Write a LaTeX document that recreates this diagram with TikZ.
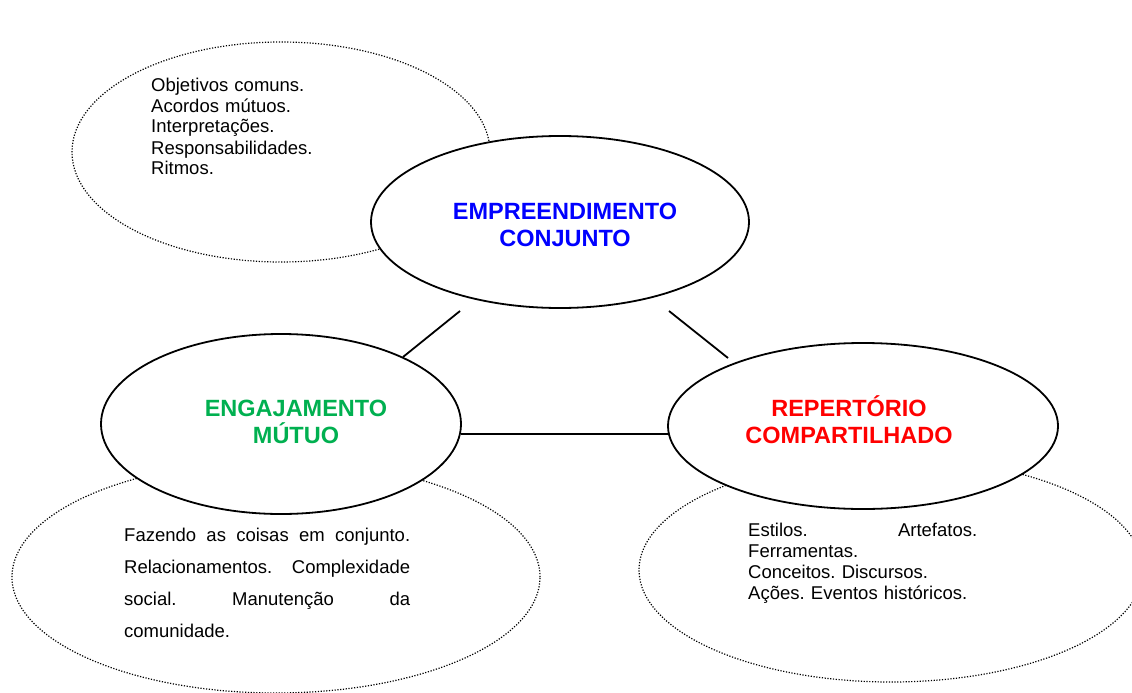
\documentclass[tikz,border=0pt]{standalone}
\usepackage{fontspec}
\setmainfont{Liberation Sans}
\usetikzlibrary{shapes.geometric}
\definecolor{empblue}{RGB}{0,0,255}
\definecolor{enggreen}{RGB}{0,176,80}
\definecolor{repred}{RGB}{255,0,0}
\frenchspacing
\begin{document}
\begin{tikzpicture}[x=1pt,y=-1pt,
  mainell/.style={ellipse, draw, line width=1.8pt, fill=white, inner sep=0pt, outer sep=0pt},
  cloud/.style={ellipse, draw, line width=1.2pt, dash pattern=on 1.2pt off 1.6pt, inner sep=0pt, outer sep=0pt},
  title/.style={font=\fontsize{23.5}{27}\selectfont\bfseries, text width=320pt, align=center, anchor=base, inner sep=0pt},
  body/.style={font=\fontsize{18.5}{21}\selectfont, text width=300pt, align=left, anchor=base west, inner sep=0pt},
  link/.style={line width=1.8pt}]
\useasboundingbox (0,0) rectangle (1132,693);
% dotted clouds
\node[cloud, minimum width=418pt, minimum height=220pt] (c1) at (281,152) {};
\node[cloud, minimum width=528pt, minimum height=232pt] (c2) at (276,577) {};
\node[cloud, minimum width=504pt, minimum height=224pt] (c3) at (891,570) {};
% body texts
\node[body] (t1) at (151,91) {Objetivos comuns.\\Acordos mútuos.\\Interpretações.\\Responsabilidades.\\Ritmos.};
\node[body, font=\fontsize{18.5}{32}\selectfont] (t2) at (124,541) {%
\makebox[286pt]{Fazendo\hfill as\hfill coisas\hfill em\hfill conjunto.}\\
\makebox[286pt]{Relacionamentos.\hfill Complexidade}\\
\makebox[286pt]{social.\hfill Manutenção\hfill da}\\
comunidade.};
\node[body, font=\fontsize{18.5}{21.3}\selectfont] (t3) at (748,536) {%
\makebox[229pt]{Estilos.\hfill Artefatos.}\\
Ferramentas.\\Conceitos. Discursos.\\Ações. Eventos históricos.};
% main ellipses
\node[mainell, minimum width=378pt, minimum height=172pt] (emp) at (560,222) {};
\node[mainell, minimum width=360pt, minimum height=180pt] (eng) at (281,424) {};
\node[mainell, minimum width=390pt, minimum height=166pt] (rep) at (863,426) {};
% titles
\node[title, text=empblue] (temp) at (565,219) {EMPREENDIMENTO\\CONJUNTO};
\node[title, text=enggreen] (teng) at (296,416) {ENGAJAMENTO\\MÚTUO};
\node[title, text=repred] (trep) at (849,416) {REPERTÓRIO\\COMPARTILHADO};
% connectors
\coordinate (a1) at (460,311);
\coordinate (a2) at (403,357);
\coordinate (b1) at (669,311);
\coordinate (b2) at (728,358);
\coordinate (hy) at (0,434);
\draw[link] (a1) -- (a2);
\draw[link] (b1) -- (b2);
\draw[link] (eng.east |- hy) -- (rep.west |- hy);
\end{tikzpicture}
\end{document}
